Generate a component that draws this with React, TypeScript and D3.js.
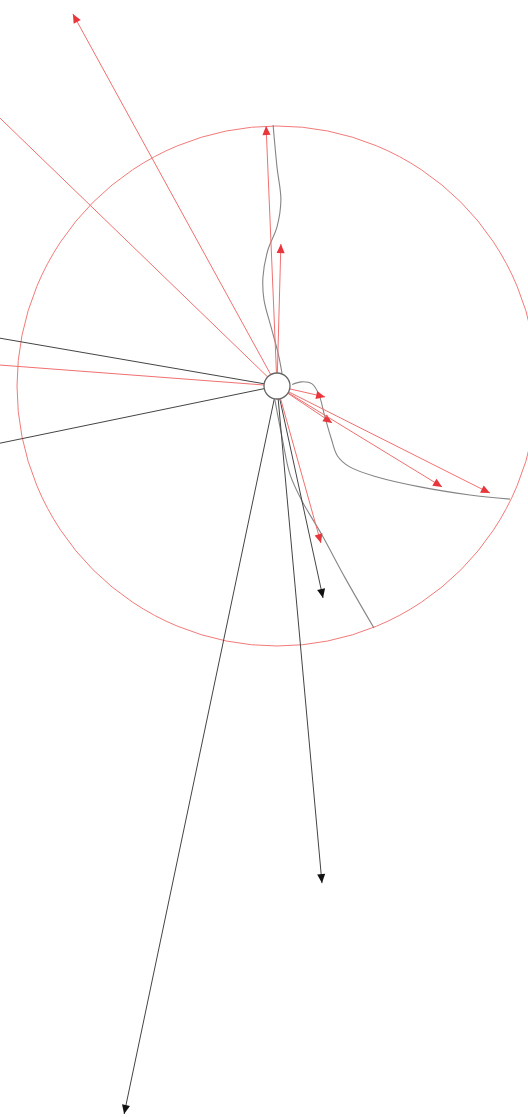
import React, { useEffect, useRef } from 'react';
import * as d3 from 'd3';

// positions are in units of the outer ring radius, relative to the central node
// (x to the right, y downwards)
const redVectors: [number, number][] = [
  [-0.785, -1.431],
  [-1.308, -1.265],
  [-0.042, -1.0],
  [0.015, -0.546],
  [-1.269, -0.096],
  [0.185, 0.042],
  [0.212, 0.142],
  [0.635, 0.388],
  [0.819, 0.412],
  [0.169, 0.604],
];

const blackVectors: [number, number][] = [
  [-1.269, -0.219],
  [-1.269, 0.262],
  [0.177, 0.815],
  [0.173, 1.912],
  [-0.588, 2.8],
];

const pathUp: [number, number][] = [
  [0.019, -0.05], [0.004, -0.127], [-0.023, -0.227], [-0.05, -0.331], [-0.054, -0.419],
  [-0.035, -0.523], [0, -0.612], [0.015, -0.715], [0, -0.842], [-0.015, -1.004],
];

const pathRight: [number, number][] = [
  [0.058, -0.006], [0.095, -0.016], [0.135, -0.008], [0.162, 0.035], [0.182, 0.11],
  [0.208, 0.2], [0.232, 0.268], [0.278, 0.31], [0.385, 0.35], [0.55, 0.388],
  [0.742, 0.419], [0.896, 0.435],
];

const pathDown: [number, number][] = [
  [-0.008, 0.054], [0.02, 0.2], [0.05, 0.34], [0.095, 0.44], [0.173, 0.573],
  [0.262, 0.738], [0.373, 0.931],
];

const curves = [pathUp, pathRight, pathDown];

const W = 528;
const H = 1117;

const App = () => {
  const ref = useRef<SVGSVGElement | null>(null);

  useEffect(() => {
    const svg = d3.select(ref.current);
    svg.selectAll('*').remove();

    const cx = 277, cy = 386, R = 260;
    const x = d3.scaleLinear().domain([-1, 1]).range([cx - R, cx + R]);
    const y = d3.scaleLinear().domain([-1, 1]).range([cy - R, cy + R]);

    const defs = svg.append('defs');
    const addMarker = (id: string, color: string) => {
      defs.append('marker')
        .attr('id', id)
        .attr('viewBox', '0 -5 10 10')
        .attr('refX', 10)
        .attr('refY', 0)
        .attr('markerUnits', 'userSpaceOnUse')
        .attr('markerWidth', 11)
        .attr('markerHeight', 9)
        .attr('orient', 'auto')
        .append('path')
        .attr('d', 'M0,-4.5L10,0L0,4.5Z')
        .attr('fill', color);
    };
    addMarker('arrow-red', '#e8363c');
    addMarker('arrow-black', '#111');

    // outer ring
    svg.append('circle')
      .attr('cx', x(0)).attr('cy', y(0))
      .attr('r', x(1) - x(0))
      .attr('fill', 'none')
      .attr('stroke', '#f27a7a')
      .attr('stroke-width', 1);

    // gray curves
    const line = d3.line<[number, number]>()
      .x(d => x(d[0]))
      .y(d => y(d[1]))
      .curve(d3.curveCatmullRom.alpha(0.5));

    svg.selectAll('.curve')
      .data(curves)
      .enter().append('path')
      .attr('class', 'curve')
      .attr('d', d => line(d))
      .attr('fill', 'none')
      .attr('stroke', '#858585')
      .attr('stroke-width', 1.1);

    // vectors
    svg.selectAll('.vec-black')
      .data(blackVectors)
      .enter().append('line')
      .attr('class', 'vec-black')
      .attr('x1', x(0)).attr('y1', y(0))
      .attr('x2', d => x(d[0])).attr('y2', d => y(d[1]))
      .attr('stroke', '#444')
      .attr('stroke-width', 1)
      .attr('marker-end', 'url(#arrow-black)');

    svg.selectAll('.vec-red')
      .data(redVectors)
      .enter().append('line')
      .attr('class', 'vec-red')
      .attr('x1', x(0)).attr('y1', y(0))
      .attr('x2', d => x(d[0])).attr('y2', d => y(d[1]))
      .attr('stroke', '#f07070')
      .attr('stroke-width', 1)
      .attr('marker-end', 'url(#arrow-red)');

    // central node
    svg.append('circle')
      .attr('cx', x(0)).attr('cy', y(0))
      .attr('r', 13)
      .attr('fill', '#fff')
      .attr('stroke', '#666')
      .attr('stroke-width', 1.3);
  }, []);

  return (
    <svg
      ref={ref}
      width={W}
      height={H}
      style={{ position: 'absolute', left: 0, top: 0, display: 'block', background: '#fff' }}
    />
  );
};

export default App;
